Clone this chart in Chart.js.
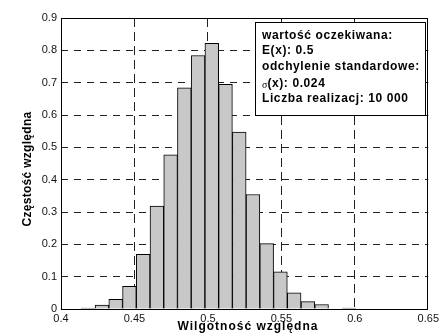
<!DOCTYPE html>
<html>
<head>
<meta charset="utf-8">
<script src="https://cdn.jsdelivr.net/npm/chart.js@4.4.1/dist/chart.umd.min.js"></script>
<style>
  html, body { margin: 0; padding: 0; background: #fff; }
  #wrap { width: 442px; height: 336px; }
</style>
</head>
<body>
<div id="wrap"><canvas id="histChart" width="442" height="336"></canvas></div>
<script>
// Histogram wilgotności względnej (10 000 realizacji)
const binCenters = [0.41853, 0.42788, 0.43722, 0.44657, 0.45591, 0.46526, 0.47460, 0.48395, 0.49329, 0.50264,
                    0.51198, 0.52133, 0.53067, 0.54002, 0.54936, 0.55871, 0.56805, 0.57740, 0.58674, 0.59609];
const relFreq = [0.003, 0.012, 0.03, 0.07, 0.169, 0.318, 0.477, 0.684, 0.784, 0.822,
                 0.695, 0.547, 0.354, 0.202, 0.115, 0.05, 0.023, 0.014, 0, 0.003];

const xTicks = [0.4, 0.45, 0.5, 0.55, 0.6, 0.65];
const xTickLabels = ['0.4', '0.45', '0.5', '0.55', '0.6', '0.65'];
const yTicks = [0, 0.1, 0.2, 0.3, 0.4, 0.5, 0.6, 0.7, 0.8, 0.9];
const yTickLabels = ['0', '0.1', '0.2', '0.3', '0.4', '0.5', '0.6', '0.7', '0.8', '0.9'];

const xTitle = 'Wilgotność względna';
const yTitle = 'Częstość względna';
const infoLines = [
  'wartość oczekiwana:',
  'E(x): 0.5',
  'odchylenie standardowe:',
  '(x): 0.024',
  'Liczba realizacj: 10 000'
];

const FONT = '"Liberation Sans", Arial, sans-serif';

// ramka osi, tytuły osi i opis w prawym górnym rogu
const decorPlugin = {
  id: 'decor',
  afterDraw(chart) {
    const ctx = chart.ctx;
    const a = chart.chartArea;
    ctx.save();
    ctx.strokeStyle = '#000';
    ctx.lineWidth = 1;
    ctx.strokeRect(Math.round(a.left) + 0.5, Math.round(a.top) + 0.5,
                   Math.round(a.right - a.left) - 1, Math.round(a.bottom - a.top));

    ctx.fillStyle = '#000';
    ctx.font = 'bold 12px ' + FONT;
    ctx.textBaseline = 'middle';
    ctx.textAlign = 'center';
    ctx.letterSpacing = '1px';
    ctx.fillText(xTitle, 248, 327);

    ctx.save();
    ctx.translate(28, 169);
    ctx.rotate(-Math.PI / 2);
    ctx.letterSpacing = '0.3px';
    ctx.fillText(yTitle, 0, 0);
    ctx.restore();

    // ramka z opisem
    ctx.fillStyle = '#fff';
    ctx.fillRect(255.5, 22.5, 170, 93);
    ctx.strokeRect(255.5, 22.5, 170, 93);

    ctx.fillStyle = '#000';
    ctx.textAlign = 'left';
    ctx.letterSpacing = '0.6px';
    const ys = [35.5, 51, 67, 83.5, 99];
    infoLines.forEach((line, i) => {
      let x = 262;
      if (i === 3) {
        ctx.font = '10px "Liberation Serif", serif';
        ctx.letterSpacing = '0px';
        ctx.fillText('σ', x, ys[i] + 1.5);
        x += ctx.measureText('σ').width;
        ctx.letterSpacing = '0.6px';
      }
      ctx.font = 'bold 12px ' + FONT;
      ctx.fillText(line, x, ys[i]);
    });
    ctx.restore();
  }
};

const tickFont = { family: FONT, size: 11 };
// linie siatki tylko wewnątrz, krawędzie rysuje ramka
const edgeColor = (edges) => (c) => (c.tick && edges.includes(c.tick.value)) ? 'rgba(0,0,0,0)' : '#222';

new Chart(document.getElementById('histChart').getContext('2d'), {
  type: 'bar',
  data: {
    datasets: [{
      data: binCenters.map((x, i) => ({ x: x, y: relFreq[i] })),
      backgroundColor: '#c8c8c8',
      borderColor: '#000',
      borderWidth: 1,
      barPercentage: 1,
      categoryPercentage: 1
    }]
  },
  options: {
    responsive: false,
    devicePixelRatio: 1,
    animation: false,
    layout: { padding: { left: 0, top: 18, right: 13, bottom: 0 } },
    plugins: { legend: { display: false }, tooltip: { enabled: false } },
    scales: {
      x: {
        type: 'linear',
        min: 0.4,
        max: 0.65,
        offset: false,
        afterBuildTicks: axis => { axis.ticks = xTicks.map(v => ({ value: v })); },
        afterFit: scale => { scale.height = 27; },
        ticks: {
          font: tickFont,
          color: '#111',
          padding: 3,
          maxRotation: 0,
          autoSkip: false,
          callback: (value, index) => xTickLabels[index]
        },
        grid: { offset: false, drawTicks: false, color: edgeColor([0.4, 0.65]), lineWidth: 1 },
        border: { display: false, dash: [9, 5] }
      },
      y: {
        min: 0,
        max: 0.9,
        afterBuildTicks: axis => { axis.ticks = yTicks.map(v => ({ value: v })); },
        afterFit: scale => { scale.width = 61; },
        ticks: {
          font: tickFont,
          color: '#111',
          padding: 4,
          autoSkip: false,
          callback: (value, index) => yTickLabels[index]
        },
        grid: { drawTicks: false, color: edgeColor([0, 0.9]), lineWidth: 1 },
        border: { display: false, dash: [7, 6] }
      }
    }
  },
  plugins: [decorPlugin]
});
</script>
</body>
</html>
